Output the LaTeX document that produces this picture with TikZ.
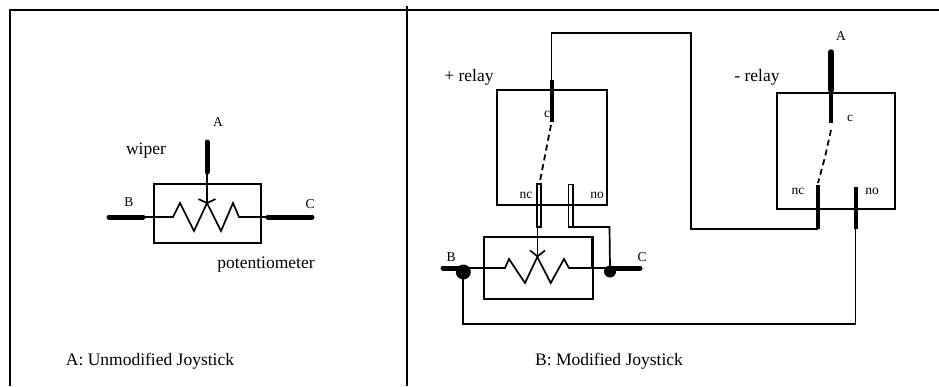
\documentclass[tikz,border=0pt]{standalone}
\usepackage{fontspec}
\setmainfont{Liberation Serif}
\usetikzlibrary{arrows.meta}
\begin{document}
\begin{tikzpicture}[x=1pt,y=-1pt,
  wire/.style={line width=1.7pt},
  framel/.style={line width=2pt},
  lead/.style={line width=5pt, line cap=round},
  contact/.style={line width=4pt},
  hollow/.style={line width=1.5pt},
  dashwire/.style={line width=1.8pt, dash pattern=on 6pt off 4pt},
  boxs/.style={draw, line width=1.7pt, inner sep=0pt},
  big/.style={font=\fontsize{17.5}{20}\selectfont, inner sep=0pt},
  small/.style={font=\fontsize{13.5}{15}\selectfont, inner sep=0pt},
  wipertip/.style={-{Straight Barb[length=4pt,width=17pt]}},
]
\useasboundingbox (0,0) rectangle (939,386);
% frame
\coordinate (fl) at (10,386); \coordinate (ftl) at (10,10); \coordinate (ftr) at (939,10);
\coordinate (dt) at (407,6); \coordinate (db) at (407,386);
\draw[framel] (fl) -- (ftl) -- (ftr);
\draw[framel] (dt) -- (db);

% ---------- left panel ----------
\node[boxs, minimum width=107pt, minimum height=59pt] (potA) at (207.5,213.5) {};
\coordinate (aBin) at (143,217); \coordinate (aBout) at (109,217);
\coordinate (aCin) at (268,217); \coordinate (aCout) at (312,217);
\coordinate (aAtop) at (207,142); \coordinate (aAbot) at (207,172);
\coordinate (aTip) at (207,204);
\draw[wire] (aBin) -- (173,217) -- (180,203) -- (194,231) -- (207,203) -- (221,231) -- (233,203) -- (239,217) -- (aCin);
\draw[wire, wipertip] (aAbot) -- (aTip);
\draw[lead] (aBout) -- (aBin);
\draw[lead] (aCin) -- (aCout);
\draw[lead] (aAtop) -- (aAbot);
\node[small] (lA1) at (218,122) {A};
\node[big] (lwiper) at (146,151) {wiper};
\node[small] (lB1) at (129,202) {B};
\node[small] (lC1) at (310,204) {C};
\node[big] (lpot) at (266,265) {potentiometer};
\node[big] (lcapA) at (150,361) {A: Unmodified Joystick};

% ---------- right panel ----------
\node[boxs, minimum width=110pt, minimum height=115pt] (prelay) at (552,147.5) {};
\node[boxs, minimum width=118pt, minimum height=116pt] (mrelay) at (836,151) {};
\node[boxs, minimum width=109pt, minimum height=62pt] (potB) at (538.5,268) {};
\draw[line width=3.5pt] (potB.north east) ++(-1.5,0) -- ++(0,31);

% + relay contacts
\coordinate (pcTop) at (551.5,80); \coordinate (pcBot) at (551.5,122);
\coordinate (pdash1) at (551,125); \coordinate (pdash2) at (545.5,153); \coordinate (pdash3) at (540,181);
\coordinate (pnc) at (537.5,227); \coordinate (pno) at (571,227);
\draw[contact] (pcTop) -- (pcBot);
\draw[dashwire] (pdash1) -- (pdash2) -- (pdash3);
\draw[hollow] (537,184) rectangle (541,227);
\draw[hollow] (568.5,184.5) rectangle (573,227);

% - relay contacts
\coordinate (mcTop) at (831,52); \coordinate (mcMid) at (831,90); \coordinate (mcBot) at (831,123);
\coordinate (mdash1) at (831,130); \coordinate (mdash2) at (825,157); \coordinate (mdash3) at (818,183);
\coordinate (mncTop) at (818,185); \coordinate (mncBot) at (818,229);
\coordinate (mnoTop) at (855.5,187); \coordinate (mnoBot) at (855.5,229);
\draw[lead, line width=5.5pt] (mcTop) -- (mcMid);
\draw[contact] (mcMid) -- (mcBot);
\draw[dashwire] (mdash1) -- (mdash2) -- (mdash3);
\draw[contact] (mncTop) -- (mncBot);
\draw[contact] (mnoTop) -- (mnoBot);

% pot B
\coordinate (bB) at (463,268); \coordinate (bBout) at (443,268);
\coordinate (bC) at (610,268); \coordinate (bCout) at (640,268);
\coordinate (bTip) at (537.5,257.5);
\draw[wire] (bB) -- (505,268) -- (509,259) -- (525,283) -- (537.3,257) -- (550.7,283) -- (564,259) -- (569,268) -- (bC);
\fill (463.3,272) circle (7.5pt);
\fill (610,271.5) circle (6pt);
\draw[lead] (bBout) -- (bB);
\draw[lead] (bC) -- (bCout);

% wires
\draw[wire] (pcTop) -- (551.5,33) -- (691,33) -- (691,229) -- (mncBot);
\draw[wire, -{Straight Barb[length=6pt,width=15pt]}] (pnc) -- (bTip);
\draw[wire] (pno) -- (609.5,227) -- (bC);
\draw[wire] (bB) -- (463,324) -- (855.5,324) -- (mnoBot);

% labels
\node[big] (lprel) at (469,77) {+ relay};
\node[big] (lmrel) at (757,77) {- relay};
\node[small, fill=white, inner sep=0.3pt] (lpc) at (547,114) {c};
\draw[contact] (551.5,105) -- (pcBot);
\node[small] (lpnc) at (526,195) {nc};
\node[small] (lpno) at (597,195) {no};
\node[small] (lB2) at (451,257) {B};
\node[small] (lC2) at (642,257) {C};
\node[small] (lA2) at (841,36) {A};
\node[small] (lmc) at (850,118) {c};
\node[small] (lmnc) at (798,191) {nc};
\node[small] (lmno) at (872,191) {no};
\node[big] (lcapB) at (609,361) {B: Modified Joystick};
\end{tikzpicture}
\end{document}
